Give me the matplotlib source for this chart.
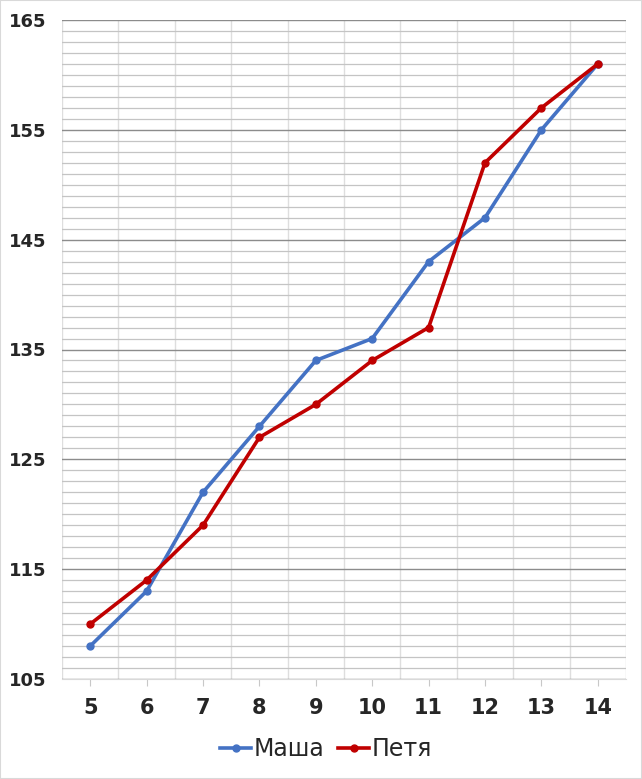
import numpy as np
import matplotlib.pyplot as plt
from matplotlib.ticker import MultipleLocator

# data
ages = [5, 6, 7, 8, 9, 10, 11, 12, 13, 14]
masha = [108, 113, 122, 128, 134, 136, 143, 147, 155, 161]
petya = [110, 114, 119, 127, 130, 134, 137, 152, 157, 161]

fig = plt.figure(figsize=(6.42, 7.79), dpi=100)
ax = fig.add_axes([62 / 642, 1 - 679 / 779, 564 / 642, 659 / 779])

x = np.arange(len(ages))
ax.plot(x, masha, color='#4472c4', lw=2.6, marker='o', ms=5, label='Маша', zorder=3)
ax.plot(x, petya, color='#c00000', lw=2.6, marker='o', ms=5, label='Петя', zorder=3)

ax.set_xlim(-0.5, len(ages) - 0.5)
ax.set_ylim(105, 165)

# y grid: major every 10, minor every 1
ax.yaxis.set_minor_locator(MultipleLocator(1))
ax.set_yticks(np.arange(105, 166, 10))
ax.grid(axis='y', which='major', color='#8c8c8c', lw=1.0)
ax.grid(axis='y', which='minor', color='#c4c4c4', lw=0.9)

# vertical lines between categories
for b in np.arange(-0.5, len(ages), 1.0):
    ax.axvline(b, color='#dedede', lw=1.0, zorder=0.5)

ax.set_xticks(x)
ax.set_xticklabels([str(a) for a in ages])
ax.tick_params(axis='x', length=5, color='#c8c8c8', direction='out', pad=9)
ax.tick_params(axis='y', which='both', length=0, pad=11)
ax.set_axisbelow(True)

for lab in ax.get_xticklabels():
    lab.set_fontsize(15)
    lab.set_fontweight('bold')
    lab.set_color('#262626')
for lab in ax.get_yticklabels():
    lab.set_fontsize(13)
    lab.set_fontweight('bold')
    lab.set_color('#262626')

for s in ['top', 'right', 'left']:
    ax.spines[s].set_visible(False)
ax.spines['bottom'].set_color('#d9d9d9')

leg = fig.legend(loc='center', bbox_to_anchor=(326 / 642, 1 - 749 / 779), ncol=2,
                 frameon=False, fontsize=17, handlelength=1.3, columnspacing=0.6,
                 handletextpad=0.1)
for t in leg.get_texts():
    t.set_color('#262626')

fig.patches.append(plt.Rectangle((0, 0), 1, 1, transform=fig.transFigure,
                                 fill=False, ec='#d9d9d9', lw=1.5))

fig.savefig('out.png', dpi=100)
